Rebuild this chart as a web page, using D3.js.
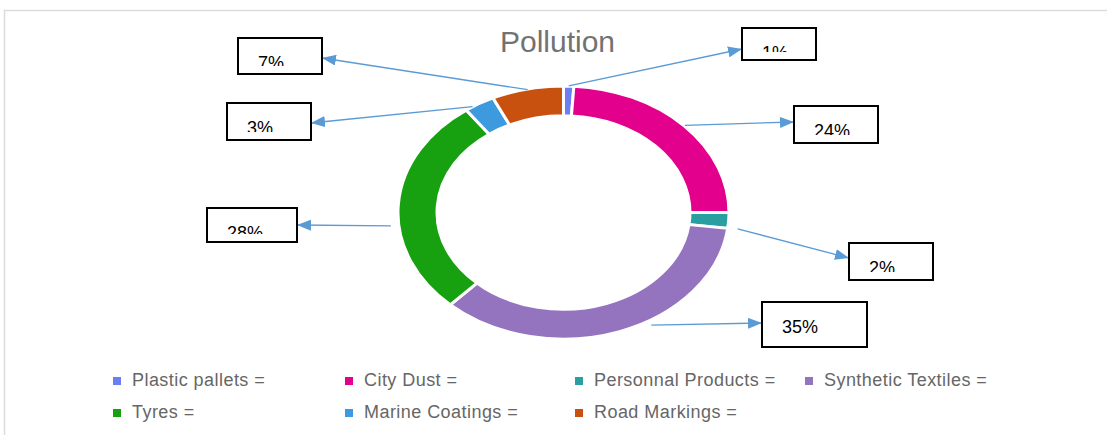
<!DOCTYPE html>
<html>
<head>
<meta charset="utf-8">
<script src="https://cdn.jsdelivr.net/npm/d3@7/dist/d3.min.js"></script>
<style>
  html, body { margin: 0; padding: 0; background: #fff; }
  svg { display: block; font-family: "Liberation Sans", Arial, sans-serif; }
</style>
</head>
<body>
<svg id="chart" width="1107" height="435"></svg>
<script>
// ---- data ----
const categories = ["Plastic pallets", "City Dust", "Personnal Products", "Synthetic Textiles", "Tyres", "Marine Coatings", "Road Markings"];
const values = [1, 24, 2, 35, 28, 3, 7];
const labelTexts = ["1%", "24%", "2%", "35%", "28%", "3%", "7%"];
const colors = ["#6b7ff2", "#e3008c", "#2a9fa2", "#9474be", "#17a00f", "#3d9ade", "#c8510f"];
const title = "Pollution";

// ---- layout (annotation boxes, arrow nudges) ----
const boxes = [
  { x: 742, y: 28,  w: 74,  h: 32, tipY: 49,  side: "left",  nudge: 0,    dr: 0 },
  { x: 794, y: 106, w: 84,  h: 37, tipY: 122, side: "left",  nudge: 0,    dr: 1 },
  { x: 849, y: 243, w: 84,  h: 37, tipY: 258, side: "left",  nudge: 3.4,  dr: 10 },
  { x: 762, y: 302, w: 105, h: 45, tipY: 323, side: "left",  nudge: -11,  dr: 6 },
  { x: 207, y: 208, w: 90,  h: 34, tipY: 225, side: "right", nudge: -9.4, dr: 8 },
  { x: 227, y: 103, w: 84,  h: 37, tipY: 123, side: "right", nudge: -2.7, dr: 0 },
  { x: 238, y: 38,  w: 84,  h: 36, tipY: 58,  side: "right", nudge: 0,    dr: -1 }
];

const cx = 563.5, cy = 212.5, sy = 0.765;
const outerR = 165.5, innerR = 126.5;

const svg = d3.select("#chart");

// frame
svg.append("rect")
  .attr("x", 4.5).attr("y", 10.5).attr("width", 1200).attr("height", 500)
  .attr("fill", "none").attr("stroke", "#dcdcdc").attr("stroke-width", 1.5);

// title
svg.append("text")
  .attr("x", 557.5).attr("y", 52)
  .attr("text-anchor", "middle")
  .attr("font-size", 30)
  .attr("fill", "#727272")
  .text(title);

// donut
const pie = d3.pie().sort(null).value(d => d);
const arcs = pie(values);
const arc = d3.arc().innerRadius(innerR).outerRadius(outerR);

const g = svg.append("g").attr("transform", `translate(${cx},${cy}) scale(1,${sy})`);
g.selectAll("path")
  .data(arcs)
  .join("path")
  .attr("d", arc)
  .attr("fill", (d, i) => colors[i])
  .attr("stroke", "#fff")
  .attr("stroke-width", 3)
  .attr("vector-effect", "non-scaling-stroke");

// arrow marker
const defs = svg.append("defs");
defs.append("marker")
  .attr("id", "arrow")
  .attr("viewBox", "0 0 14 11")
  .attr("refX", 14).attr("refY", 5.5)
  .attr("markerWidth", 14).attr("markerHeight", 11)
  .attr("markerUnits", "userSpaceOnUse")
  .attr("orient", "auto")
  .append("path")
  .attr("d", "M0,0 L14,5.5 L0,11 Z")
  .attr("fill", "#5b9bd5");

// annotations
arcs.forEach((a, i) => {
  const b = boxes[i];
  const mid = (a.startAngle + a.endAngle) / 2 + b.nudge * Math.PI / 180;
  const r = outerR + b.dr;
  const sx = cx + r * Math.sin(mid);
  const syy = cy - r * Math.cos(mid) * sy;
  const tx = b.side === "left" ? b.x : b.x + b.w;
  svg.append("line")
    .attr("x1", sx).attr("y1", syy)
    .attr("x2", tx).attr("y2", b.tipY)
    .attr("stroke", "#5b9bd5").attr("stroke-width", 1.3)
    .attr("marker-end", "url(#arrow)");

  defs.append("clipPath").attr("id", "clip" + i)
    .append("rect")
    .attr("x", b.x).attr("y", b.y)
    .attr("width", b.w).attr("height", b.h - 8);

  svg.append("rect")
    .attr("x", b.x).attr("y", b.y).attr("width", b.w).attr("height", b.h)
    .attr("fill", "#fff").attr("stroke", "#000").attr("stroke-width", 2);

  svg.append("text")
    .attr("x", b.x + 20).attr("y", b.y + 31)
    .attr("font-size", 18)
    .attr("fill", "#000")
    .attr("clip-path", `url(#clip${i})`)
    .text(labelTexts[i]);
});

// legend
const legendCols = [113, 345, 575, 805];
const legendRows = [381, 413];
const legend = svg.append("g");
categories.forEach((c, i) => {
  const col = i % 4, row = Math.floor(i / 4);
  const lx = legendCols[col], ly = legendRows[row];
  legend.append("rect")
    .attr("x", lx).attr("y", ly - 4).attr("width", 8).attr("height", 8)
    .attr("fill", colors[i]);
  legend.append("text")
    .attr("x", lx + 19).attr("y", ly + 5)
    .attr("font-size", 18)
    .attr("letter-spacing", 0.45)
    .attr("fill", "#666")
    .text(c + " =");
});
</script>
</body>
</html>
